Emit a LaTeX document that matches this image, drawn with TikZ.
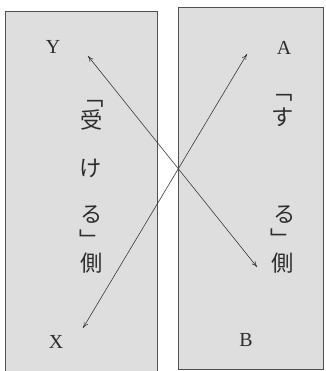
\documentclass[tikz,border=0pt]{standalone}
\usepackage{fontspec}
\setmainfont{Liberation Serif}
\newfontfamily\jpfont{Noto Sans CJK JP}
\usetikzlibrary{arrows.meta}
\definecolor{panelfill}{RGB}{222,222,222}
\definecolor{panelbdr}{RGB}{80,80,80}
\definecolor{arrowclr}{RGB}{55,55,55}
\definecolor{txtclr}{RGB}{45,45,45}
\tikzset{
  panel/.style={draw=panelbdr,fill=panelfill,line width=0.6pt},
  letter/.style={font=\fontsize{17}{17}\selectfont,text=txtclr,inner sep=0pt},
  kana/.style={font=\jpfont\fontsize{19}{19}\selectfont,text=txtclr,inner sep=0pt},
  darr/.style={{To[length=5pt,width=4pt]}-{To[length=5pt,width=4pt]},
    line width=0.5pt,color=arrowclr},
}

\begin{document}
\begin{tikzpicture}[x=0.03cm,y=-0.03cm]
  \useasboundingbox (0,0) rectangle (325,371);
  % two panels
  \fill[panelfill] (5,11) rectangle (157,371);
  \draw[panelbdr,line width=0.6pt] (5,371) -- (5,11) -- (157,11) -- (157,371);
  \draw[panel] (178,7) rectangle (323,369);

  % end letters
  \node[letter] (y) at (53,47)  {Y};
  \node[letter] (a) at (284,48) {A};
  \node[letter] (x) at (56,342) {X};
  \node[letter] (b) at (246,340) {B};

  % left column (vertical)
  \node[kana] (lq1) at (93,104)  {﹁};
  \node[kana] (l1)  at (92,120)  {受};
  \node[kana] (l2)  at (91,168)  {け};
  \node[kana] (l3)  at (92,215)  {る};
  \node[kana] (lq2) at (91,239)  {﹂};
  \node[kana] (l4)  at (92,263)  {側};

  % right column (vertical)
  \node[kana] (rq1) at (282,98)  {﹁};
  \node[kana] (r1)  at (283,117) {す};
  \node[kana] (r2)  at (285,215) {る};
  \node[kana] (rq2) at (282,238) {﹂};
  \node[kana] (r3)  at (283,263) {側};

  % crossing arrows
  \coordinate (ytip) at (88,56);
  \coordinate (btip) at (257,267);
  \coordinate (xtip) at (83,328);
  \coordinate (atip) at (247,54);
  \draw[darr] (ytip) -- (btip);
  \draw[darr] (xtip) -- (atip);
\end{tikzpicture}
\end{document}
